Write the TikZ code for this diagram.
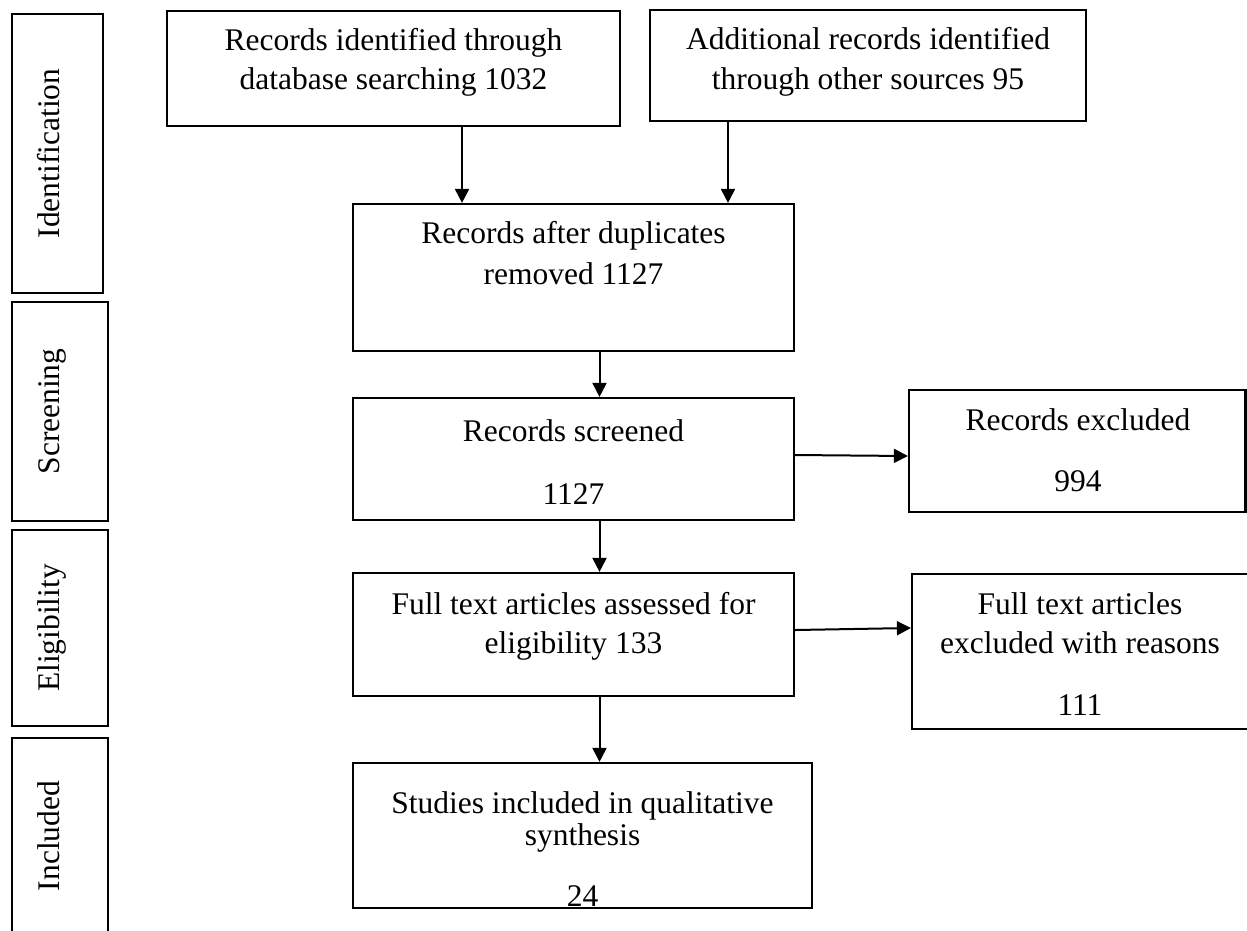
\documentclass[tikz,border=0pt]{standalone}
\usepackage{fontspec}
\setmainfont{Liberation Serif}
\usetikzlibrary{arrows.meta}
\begin{document}
\begin{tikzpicture}[x=1pt,y=-1pt,
  box/.style={draw=black,line width=2.2pt,rectangle,inner sep=0pt,fill=none},
  txt/.style={anchor=base,inner sep=0pt,font=\fontsize{31.5}{40}\selectfont},
  side/.style={anchor=base,inner sep=0pt,rotate=90,font=\fontsize{31.5}{40}\selectfont},
  arr/.style={line width=2pt,-{Triangle[length=14pt,width=14pt]}}]
\useasboundingbox[fill=white] (0,0) rectangle (1247,930);
\clip (0,0) rectangle (1247,930);
% side boxes
\node[box,minimum width=91pt,minimum height=279pt] (sid) at (57.5,153.5) {};
\node[box,minimum width=96pt,minimum height=219pt] (ssc) at (60,411.5) {};
\node[box,minimum width=96pt,minimum height=196pt] (sel) at (60,628) {};
\node[box,minimum width=96pt,minimum height=202pt] (sin) at (60,839) {};
\node[side] (lid) at (59,153.5) {Identification};
\node[side] (lsc) at (59,411.5) {Screening};
\node[side] (lel) at (59,628) {Eligibility};
\node[side] (lin) at (59,836) {Included};
% main boxes
\node[box,minimum width=453pt,minimum height=115pt] (b1) at (393.5,68.5) {};
\node[box,minimum width=436pt,minimum height=111pt] (b2) at (868,65.5) {};
\node[box,minimum width=441pt,minimum height=147pt] (b3) at (573.5,277.5) {};
\node[box,minimum width=441pt,minimum height=122pt] (b4) at (573.5,459) {};
\node[box,minimum width=441pt,minimum height=123pt] (b5) at (573.5,634.5) {};
\node[box,minimum width=459pt,minimum height=145pt] (b6) at (582.5,835.5) {};
\node[box,minimum width=336.5pt,minimum height=122pt] (rex) at (1077.25,451) {};
\node[box,minimum width=337pt,minimum height=155pt] (fex) at (1080.5,651.5) {};
% texts
\node[txt] (t1a) at (393.5,50) {Records identified through};
\node[txt] (t1b) at (393.5,89) {database searching 1032};
\node[txt] (t2a) at (868,49) {Additional records identified};
\node[txt] (t2b) at (868,89) {through other sources 95};
\node[txt] (t3a) at (573.5,243) {Records after duplicates};
\node[txt] (t3b) at (573.5,284) {removed 1127};
\node[txt] (t4a) at (573.5,441) {Records screened};
\node[txt] (t4b) at (573.5,504) {1127};
\node[txt] (tra) at (1078,430) {Records excluded};
\node[txt] (trb) at (1078,491) {994};
\node[txt] (t5a) at (573.5,614) {Full text articles assessed for};
\node[txt] (t5b) at (573.5,653) {eligibility 133};
\node[txt] (tfa) at (1080,614) {Full text articles};
\node[txt] (tfb) at (1080,653) {excluded with reasons};
\node[txt] (tfc) at (1080,715) {111};
\node[txt] (t6a) at (582.5,813) {Studies included in qualitative};
\node[txt] (t6b) at (582.5,845) {synthesis};
\node[txt] (t6c) at (582.5,906) {24};
% arrows
\draw[arr] (b1.south -| 462,0) -- (b3.north -| 462,0);
\draw[arr] (b2.south -| 728,0) -- (b3.north -| 728,0);
\draw[arr] (b3.south -| 599.5,0) -- (b4.north -| 599.5,0);
\draw[arr] (b4.south -| 599.5,0) -- (b5.north -| 599.5,0);
\draw[arr] (b5.south -| 599.5,0) -- (b6.north -| 599.5,0);
\draw[arr] (b4.east |- 0,455) -- (rex.west |- 0,456);
\draw[arr] (b5.east |- 0,630) -- (fex.west |- 0,628);
\end{tikzpicture}
\end{document}
